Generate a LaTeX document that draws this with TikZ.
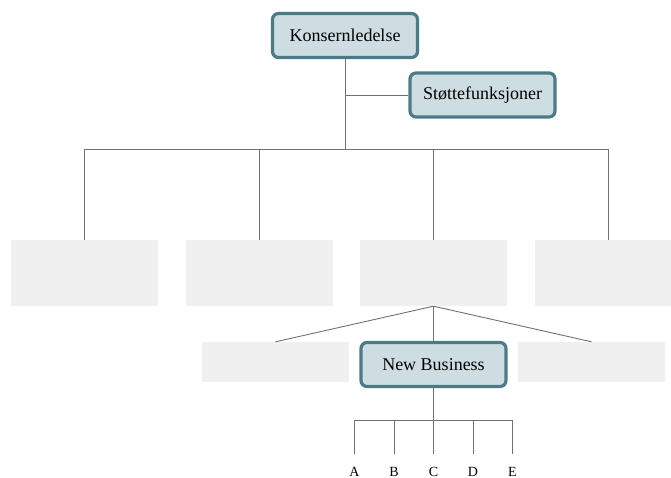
\documentclass[tikz,border=0pt]{standalone}
\usepackage{fontspec}
\setmainfont{Liberation Serif}
\definecolor{teal1}{HTML}{4B7B87}
\definecolor{fillb}{HTML}{CEDDE2}
\definecolor{greybox}{HTML}{F0F0F0}
\definecolor{linec}{HTML}{707070}
\tikzset{
  keybox/.style={draw=teal1, line width=3.2pt, fill=fillb, rounded corners=6pt,
    minimum width=145pt, minimum height=44pt, inner sep=0pt, font=\fontsize{18}{20}\selectfont},
  emptybox/.style={fill=greybox, draw=none, minimum width=147pt, inner sep=0pt},
  conn/.style={draw=linec, line width=0.9pt},
  lab/.style={inner sep=0pt, anchor=base, font=\fontsize{14}{16}\selectfont}
}
\begin{document}
\begin{tikzpicture}[x=1pt,y=-1pt]
\useasboundingbox (0,0) rectangle (671,478);
% grey boxes
\node[emptybox, minimum height=66pt] (g1) at (84.5,273) {};
\node[emptybox, minimum height=66pt] (g2) at (259.5,273) {};
\node[emptybox, minimum height=66pt] (g3) at (433.5,273) {};
\node[emptybox, minimum height=66pt] (g4) at (608.5,273) {};
\node[emptybox, minimum height=40pt] (l1) at (275.5,362) {};
\node[emptybox, minimum height=40pt] (l2) at (591.5,362) {};
% key nodes
\node[keybox] (kl) at (345,35.5) {Konsernledelse};
\node[keybox] (st) at (482.5,95) {Støttefunksjoner};
\node[keybox] (nb) at (433.5,364.5) {New Business};
% coordinates
\coordinate (bar) at (345.5,149.5);
\coordinate (sbar) at (433.5,420);
% labels
\node[lab] (tA) at (354.5,476) {A};
\node[lab] (tB) at (394,476) {B};
\node[lab] (tC) at (433.5,476) {C};
\node[lab] (tD) at (473,476) {D};
\node[lab] (tE) at (512.5,476) {E};
% connectors top
\draw[conn] (kl.south) -- (kl.south |- bar);
\draw[conn] (kl.south |- st.west) -- (st.west);
\draw[conn] (g1 |- bar) -- (g4 |- bar);
\foreach \g in {g1,g2,g3,g4}{
  \draw[conn] (\g |- bar) -- (\g.north);
}
% lower
\draw[conn] (g3.south) -- (l1.north);
\draw[conn] (g3.south) -- (l2.north);
\draw[conn] (g3.south) -- (nb.north);
\draw[conn] (nb.south) -- (sbar);
\draw[conn] (tA |- sbar) -- (tE |- sbar);
\foreach \t in {tA,tB,tC,tD,tE}{
  \draw[conn, shorten >=13pt] (\t |- sbar) -- (\t.north);
}
\end{tikzpicture}
\end{document}
